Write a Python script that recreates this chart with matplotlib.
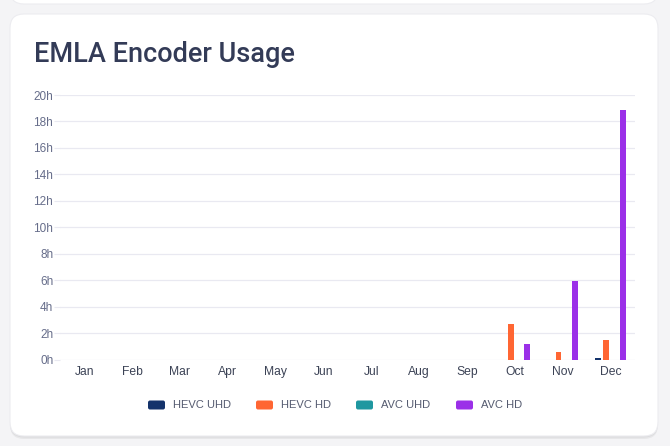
import matplotlib
matplotlib.use("Agg")
import matplotlib.pyplot as plt
from matplotlib.patches import FancyBboxPatch
import numpy as np

# data (hours per month)
months = ["Jan", "Feb", "Mar", "Apr", "May", "Jun", "Jul", "Aug", "Sep", "Oct", "Nov", "Dec"]
hevc_uhd = [0, 0, 0, 0, 0, 0, 0, 0, 0, 0, 0, 0.15]
hevc_hd = [0, 0, 0, 0, 0, 0, 0, 0, 0, 2.7, 0.6, 1.5]
avc_uhd = [0, 0, 0, 0, 0, 0, 0, 0, 0, 0, 0, 0]
avc_hd = [0, 0, 0, 0, 0, 0, 0, 0, 0, 1.15, 5.9, 18.9]
series_names = ["HEVC UHD", "HEVC HD", "AVC UHD", "AVC HD"]
colors = ["#14336b", "#ff6633", "#1f97a0", "#9b30e8"]
y_ticks = list(range(0, 21, 2))

W, H = 670, 446
fig = plt.figure(figsize=(W / 100, H / 100), dpi=100)
fig.patch.set_facecolor("#f4f4f6")

# background cards
bg = fig.add_axes([0, 0, 1, 1])
bg.set_xlim(0, W)
bg.set_ylim(H, 0)
bg.axis("off")
for dy, a in [(3, 0.05), (1.5, 0.05)]:
    bg.add_patch(FancyBboxPatch((10, 14 + dy), 648, 422, boxstyle="round,pad=0,rounding_size=14",
                                facecolor="#000000", edgecolor="none", alpha=a))
bg.add_patch(FancyBboxPatch((10, 14), 648, 422, boxstyle="round,pad=0,rounding_size=14",
                            facecolor="white", edgecolor="#ececf0", linewidth=0.8))
bg.add_patch(FancyBboxPatch((10, -30), 648, 34, boxstyle="round,pad=0,rounding_size=14",
                            facecolor="white", edgecolor="#ececf0", linewidth=0.8))
bg.text(34, 54, "EMLA Encoder Usage", fontsize=19.5, color="#333b57", family="Roboto",
        fontweight="medium", ha="left", va="center")

# chart
ax = fig.add_axes([60.2 / W, 1 - 359.5 / H, 574.3 / W, 264.5 / H])
ax.set_facecolor("none")
x = np.arange(len(months))
slot = 0.176
bar_w = 0.125
for i, (name, vals, c) in enumerate(zip(series_names, [hevc_uhd, hevc_hd, avc_uhd, avc_hd], colors)):
    ax.bar(x + (i - 1.5) * slot, vals, width=bar_w, color=c, label=name, zorder=3)

ax.set_xlim(-0.5, len(months) - 0.5)
ax.set_ylim(0, 20)
ax.set_yticks(y_ticks)
ax.set_yticklabels([f"{t}h" for t in y_ticks])
ax.set_xticks(x)
ax.set_xticklabels(months)
ax.grid(axis="y", color="#e9e9f1", linewidth=0.9, zorder=0)
ax.tick_params(axis="y", length=4, color="#e9e9f1", labelsize=8.5, labelcolor="#666d8a", pad=1)
ax.tick_params(axis="x", length=0, labelsize=8.7, labelcolor="#3c4356", pad=5)
for lbl in ax.get_xticklabels() + ax.get_yticklabels():
    lbl.set_family("Liberation Sans")
for s in ax.spines.values():
    s.set_visible(False)

# legend
leg_x = [148, 256, 356, 456]
for lx, name, c in zip(leg_x, series_names, colors):
    bg.add_patch(FancyBboxPatch((lx, 400.5), 17, 9, boxstyle="round,pad=0,rounding_size=2",
                                facecolor=c, edgecolor="none"))
    bg.text(lx + 25, 405.5, name, fontsize=8, color="#555b70", family="Liberation Sans",
            ha="left", va="center")

fig.savefig("out.png", dpi=100, facecolor=fig.get_facecolor())
